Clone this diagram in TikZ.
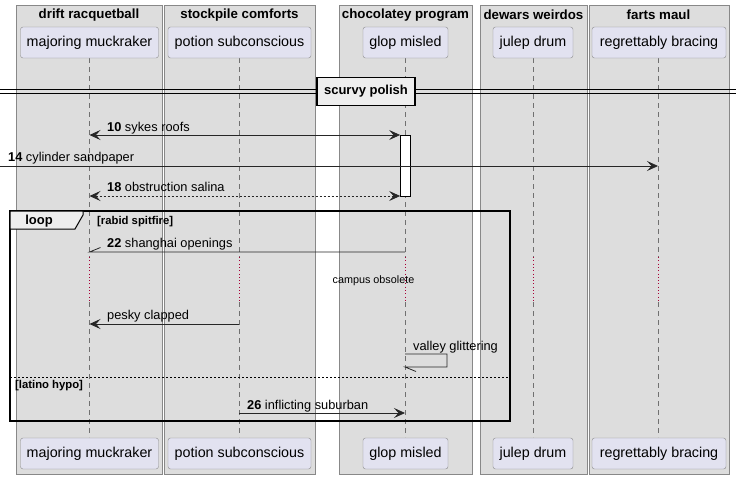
\documentclass[tikz,border=0pt]{standalone}
\usepackage{fontspec}
\setmainfont{Liberation Sans}
\usetikzlibrary{arrows.meta,calc}
\definecolor{boxgray}{HTML}{DDDDDD}
\definecolor{boxline}{HTML}{888888}
\definecolor{partfill}{HTML}{E2E2F0}
\definecolor{partline}{HTML}{8A8A8A}
\definecolor{lifegray}{HTML}{707070}
\definecolor{delayred}{HTML}{A80036}
\definecolor{tabfill}{HTML}{EEEEEE}
\tikzset{
  grpbox/.style={draw=boxline, fill=boxgray, line width=0.8pt},
  grptitle/.style={font=\bfseries\fontsize{13.3}{15}\selectfont, inner sep=0pt},
  part/.style={draw=partline, fill=partfill, rounded corners=2.5pt, minimum height=31pt, inner sep=0pt, font=\fontsize{14.3}{17}\selectfont},
  lifeline/.style={draw=lifegray, dash pattern=on 5pt off 4pt, line width=0.6pt},
  delayline/.style={draw=delayred, dash pattern=on 0.8pt off 2.5pt, line width=0.6pt},
  msglbl/.style={font=\fontsize{12.8}{15}\selectfont, inner sep=0pt, anchor=base west},
  msgline/.style={line width=0.8pt, draw=black!85},
  tip/.style={line width=0.8pt, draw=black!85, -{Stealth[length=11pt,width=10pt,inset=4.5pt]}},
  bitip/.style={line width=0.8pt, draw=black!85, {Stealth[length=11pt,width=10pt,inset=4.5pt]}-{Stealth[length=11pt,width=10pt,inset=4.5pt]}},
  smalllbl/.style={font=\bfseries\fontsize{11.3}{13}\selectfont, inner sep=0pt, anchor=base west},
}
\begin{document}
\begin{tikzpicture}[x=1pt,y=-1pt]
\useasboundingbox[fill=white] (0,0) rectangle (736,479);
% group boxes
\draw[grpbox] (16,5.5) rectangle (162,474);
\draw[grpbox] (164,5.5) rectangle (315,474);
\draw[grpbox] (339,5.5) rectangle (472,474);
\draw[grpbox] (480,5.5) rectangle (587,474);
\draw[grpbox] (589,5.5) rectangle (729,474);
\node[grptitle] (g1) at (89,15) {drift racquetball};
\node[grptitle] (g2) at (239.5,15) {stockpile comforts};
\node[grptitle] (g3) at (405.5,15) {chocolatey program};
\node[grptitle] (g4) at (533.5,15) {dewars weirdos};
\node[grptitle] (g5) at (658.5,15) {farts maul};
% lifelines
\foreach \x in {89.5,239,405,533,658}{
  \draw[lifeline] (\x,58) -- (\x,257);
  \draw[delayline] (\x,257) -- (\x,302);
  \draw[lifeline] (\x,302) -- (\x,437);
}
% participants
\node[part, minimum width=138pt] (mmT) at (89.5,42.5) {majoring muckraker};
\node[part, minimum width=143pt] (psT) at (239.5,42.5) {potion subconscious};
\node[part, minimum width=85pt] (gmT) at (405.5,42.5) {glop misled};
\node[part, minimum width=80pt] (jdT) at (533,42.5) {julep drum};
\node[part, minimum width=134pt] (rbT) at (659,42.5) {regrettably bracing};
\node[part, minimum width=138pt] (mmB) at (89.5,453.5) {majoring muckraker};
\node[part, minimum width=143pt] (psB) at (239.5,453.5) {potion subconscious};
\node[part, minimum width=85pt] (gmB) at (405.5,453.5) {glop misled};
\node[part, minimum width=80pt] (jdB) at (533,453.5) {julep drum};
\node[part, minimum width=134pt] (rbB) at (659,453.5) {regrettably bracing};
% divider
\draw[line width=0.8pt] (0,89.3) -- (736,89.3);
\draw[line width=0.8pt] (0,93.3) -- (736,93.3);
\node[draw=black, line width=1.5pt, fill=tabfill, minimum width=98pt, minimum height=28pt, inner sep=0pt, font=\bfseries\fontsize{13}{15}\selectfont] (div) at (366,91.5) {scurvy polish};
% activation
\node[draw=black, fill=white, line width=0.8pt, minimum width=10pt, minimum height=61pt, inner sep=0pt] (act) at (405.5,165.5) {};
% message coordinates
\coordinate (m10a) at (89.5,135);
\coordinate (m10b) at (act.west|-m10a);
\coordinate (m14a) at (0,166);
\coordinate (m14b) at (658,166);
\coordinate (m18a) at (89.5,196);
\coordinate (m18b) at (act.west|-m18a);
% messages
\draw[bitip] (m10a) -- (m10b);
\node[msglbl] (l10) at (107,131) {\textbf{10} sykes roofs};
\draw[tip] (m14a) -- (m14b);
\node[msglbl] (l14) at (8,161) {\textbf{14} cylinder sandpaper};
\draw[bitip, dash pattern=on 2pt off 2pt] (m18a) -- (m18b);
\node[msglbl] (l18) at (107,191.5) {\textbf{18} obstruction salina};
% loop frame
\draw[line width=1.5pt] (10,211) rectangle (510,421);
\draw[line width=1pt, fill=tabfill] (10,211) -- (83,211) -- (83,215) -- (75,229) -- (10,229) -- cycle;
\node[font=\bfseries\fontsize{13}{15}\selectfont, inner sep=0pt] (looplbl) at (39,221) {loop};
\node[smalllbl] (cond1) at (97,224.5) {[rabid spitfire]};
% 22
\coordinate (m22a) at (405,252);
\coordinate (m22b) at (89.5,252);
\draw[msgline] (m22a) -- (m22b) -- ++(11,-4.5);
\node[msglbl] (l22) at (107,247) {\textbf{22} shanghai openings};
% delay
\node[font=\fontsize{10.8}{13}\selectfont, inner sep=0pt] (delay) at (373.5,281) {campus obsolete};
% pesky clapped
\coordinate (mpa) at (239,324);
\coordinate (mpb) at (89.5,324);
\draw[tip] (mpa) -- (mpb);
\node[msglbl] (lp) at (107,319.5) {pesky clapped};
% valley glittering
\coordinate (mva) at (405,354);
\coordinate (mvb) at (405,367);
\draw[msgline] (mva) -- (447,354) -- (447,367) -- (mvb) -- ++(11,4.5);
\node[msglbl] (lv) at (413,350) {valley glittering};
% else
\draw[line width=0.8pt, dash pattern=on 2pt off 2pt] (10,377) -- (510,377);
\node[smalllbl] (cond2) at (15,388.5) {[latino hypo]};
% 26
\coordinate (m26a) at (239,413);
\coordinate (m26b) at (405,413);
\draw[tip] (m26a) -- (m26b);
\node[msglbl] (l26) at (247,409) {\textbf{26} inflicting suburban};
\end{tikzpicture}
\end{document}
